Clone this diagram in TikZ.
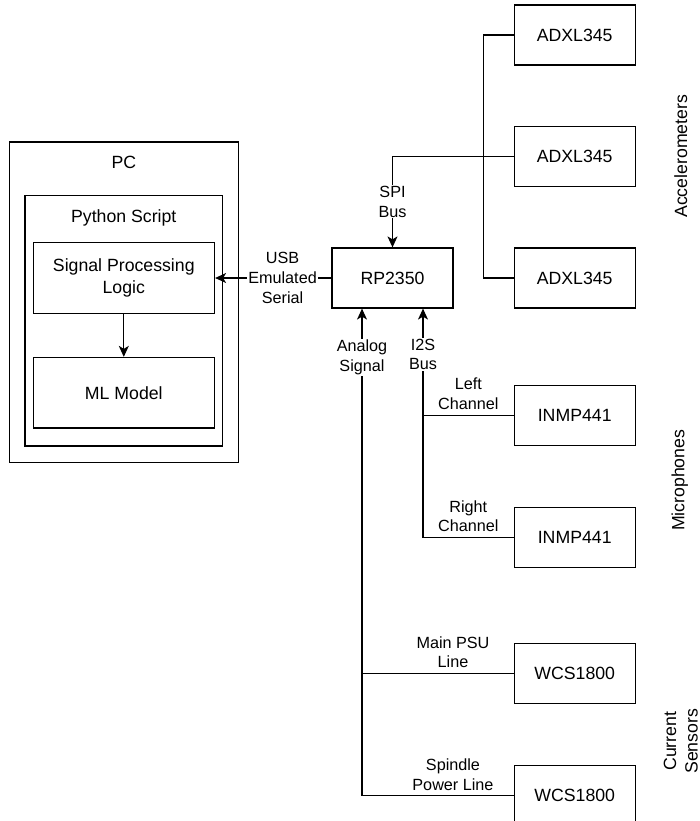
\documentclass[tikz,border=0pt]{standalone}
\usepackage{fontspec}
\setmainfont{Liberation Sans}
\usetikzlibrary{arrows.meta,positioning,fit,calc}

\begin{document}
\begin{tikzpicture}[
        x=1pt, y=1pt,
        font=\fontsize{17.7}{21.5}\selectfont,
        box/.style={draw, line width=1.2pt, align=center, minimum width=121pt, minimum height=60pt, inner sep=0pt},
        wide/.style={box, minimum width=181.4pt, minimum height=70.5pt},
        group/.style={draw, line width=1.2pt, inner sep=0pt},
        lbl/.style={fill=white, align=center, inner sep=1pt, font=\fontsize{16.2}{19.6}\selectfont},
        side/.style={rotate=90, align=center},
        arr/.style={-{Stealth[length=11pt, width=10pt, inset=3pt]}, line width=1.2pt},
        wire/.style={line width=1.2pt}
    ]
        \useasboundingbox (0,0) rectangle (700,-821);
        \node[box] (rp) at (392.5,-278) {RP2350};
        \node[box, right=60pt of rp] (adxl3) {ADXL345};
        \node[box, above=60.5pt of adxl3] (adxl2) {ADXL345};
        \node[box, above=60pt of adxl2] (adxl1) {ADXL345};
        \node[box, below=76pt of adxl3] (inmp1) {INMP441};
        \node[box, below=61pt of inmp1] (inmp2) {INMP441};
        \node[box, below=75pt of inmp2] (wcs1) {WCS1800};
        \node[box, below=61pt of wcs1] (wcs2) {WCS1800};
        \node[wide, left=116.3pt of rp] (sig) {Signal Processing\\Logic};
        \node[wide, below=43pt of sig] (ml) {ML Model};
        \node[group, fit={($(sig.north west)+(-7.6,47)$) ($(ml.south east)+(7.6,-17.5)$)}] (py) {};
        \node[anchor=base] (pytitle) at ($(py.north)+(0,-27.5)$) {Python Script};
        \node[group, fit={($(py.north west)+(-15,52.5)$) ($(py.south east)+(15,-16)$)}] (pc) {};
        \node[anchor=base] (pctitle) at ($(pc.north)+(0,-27.5)$) {PC};
        \node[side] (acc) at ($(adxl2.east)+(45,0)$) {Accelerometers};
        \node[side] (mic) at ($(inmp1.east)!0.5!(inmp2.east)+(44,-4)$) {Microphones};
        \node[side] (cur) at ($(wcs1.east)!0.5!(wcs2.east)+(45,-6.5)$) {Current\\Sensors};
        \coordinate (spijoin) at ($(adxl2.west)+(-30,0)$);
        \coordinate (ain) at ($(rp.south)+(-30.5,0)$);
        \coordinate (i2sin) at ($(rp.south)+(30.5,0)$);
        \draw[arr] (adxl2.west) -| node[lbl, pos=0.75] {SPI\\Bus} (rp.north);
        \draw[wire] (adxl1.west) -| (spijoin) |- (adxl3.west);
        \draw[arr] (rp.west) -- node[lbl, pos=0.42] {USB\\Emulated\\Serial} (sig.east);
        \draw[arr] (sig) -- (ml);
        \draw[arr] (inmp2.west) -| node[lbl, pos=0.25, above=4pt] {Right\\Channel} node[lbl, pos=0.9] {I2S\\Bus} (i2sin);
        \draw[wire] (inmp1.west) -- node[lbl, above=4pt] {Left\\Channel} (inmp1.west -| i2sin);
        \draw[arr] (wcs2.west) -| node[lbl, pos=0.2, above=4pt] {Spindle\\Power Line} node[lbl, pos=0.95] {Analog\\Signal} (ain);
        \draw[wire] (wcs1.west) -- node[lbl, pos=0.4, above=4pt] {Main PSU\\Line} (wcs1.west -| ain);
    \end{tikzpicture}
\end{document}
